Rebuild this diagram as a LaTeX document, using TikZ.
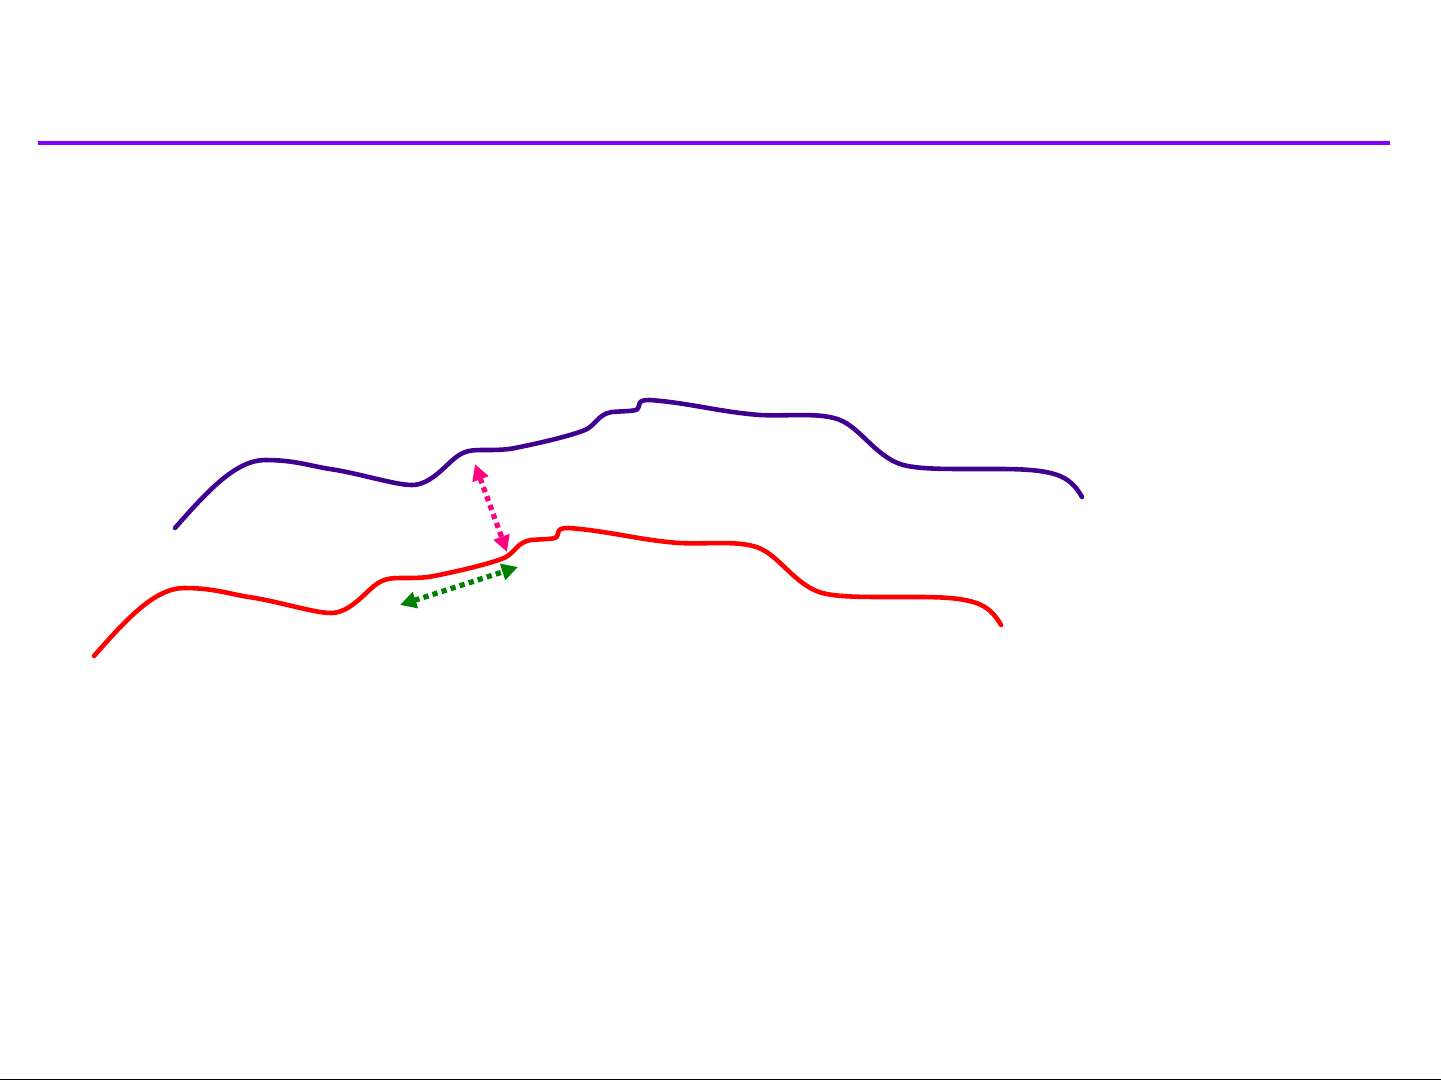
\documentclass[tikz,border=0pt]{standalone}
\usepackage{tikz}
\usetikzlibrary{arrows.meta}
\definecolor{rule}{HTML}{8000FF}
\definecolor{ridge}{HTML}{400090}
\definecolor{gap}{HTML}{FF0080}
\definecolor{slide}{HTML}{008000}
\newcommand{\ridgeline}{(175,528)
  .. controls (205,494) and (235,460) .. (265,460)
  .. controls (295,460) and (310,466) .. (330,469)
  .. controls (360,473.5) and (395,485) .. (412,485)
  .. controls (430,485) and (445,466) .. (455,458)
  .. controls (465,450) and (472,450) .. (485,450)
  .. controls (495,450) and (505,450) .. (515,448)
  .. controls (540,443) and (570,436) .. (585,430)
  .. controls (595,426) and (598,414) .. (612,412)
  .. controls (630,410.5) and (639,412) .. (639,406)
  .. controls (639,401) and (642,400) .. (650,400)
  .. controls (690,403) and (720,412) .. (760,415)
  .. controls (790,416.5) and (820,412) .. (840,420)
  .. controls (860,428) and (875,455) .. (900,464)
  .. controls (915,469) and (940,469) .. (970,469)
  .. controls (1010,469) and (1040,468) .. (1060,476)
  .. controls (1072,481) and (1078,490) .. (1082,497)}

\begin{document}
\begin{tikzpicture}[
  x=0.01cm, y=-0.01cm,
  curve/.style={line width=1.3pt, line cap=round, line join=round},
  move/.style={line width=1.5pt, dash pattern=on 1.5pt off 1.2pt,
    {Triangle[length=4.6pt,width=4.6pt]}-{Triangle[length=4.6pt,width=4.6pt]}}
]
  \useasboundingbox (0,0) rectangle (1441,1081);

  % Top rule and frame
  \coordinate (ruleL) at (38,143);
  \coordinate (ruleR) at (1390,143);
  \draw[rule, line width=1.15pt] (ruleL) -- (ruleR);
  \coordinate (baseL) at (0,1079.5);
  \coordinate (baseR) at (1441,1079.5);
  \draw[black, line width=0.5pt] (baseL) -- (baseR);

  % Upper and lower surfaces
  \draw[curve, ridge] \ridgeline;
  \begin{scope}[shift={(-81,128)}]
    \draw[curve, red] \ridgeline;
  \end{scope}

  % Arrows
  \coordinate (gapA) at (475,464);
  \coordinate (gapB) at (507,552);
  \draw[move, gap] (gapA) -- (gapB);
  \coordinate (slideA) at (400,605);
  \coordinate (slideB) at (518,567);
  \draw[move, slide] (slideA) -- (slideB);
\end{tikzpicture}
\end{document}
